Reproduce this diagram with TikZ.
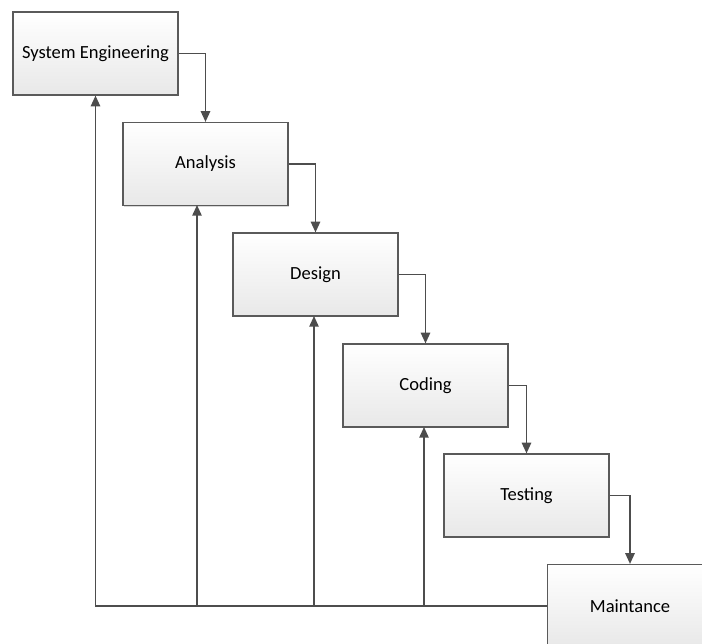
\documentclass[tikz,border=0pt]{standalone}
\usepackage{fontspec}
\setmainfont{Carlito}
\usetikzlibrary{arrows.meta,shadows}
\definecolor{WFLine}{HTML}{4D4D4D}
\definecolor{WFBorder}{HTML}{5A5A5A}
\definecolor{WFShade}{HTML}{E8E8E8}

\tikzset{
  phase/.style={rectangle,draw=WFBorder,line width=0.9pt,top color=white,bottom color=WFShade,
    minimum width=123.75pt,minimum height=62.25pt,inner sep=0pt,font=\fontsize{13.9}{16}\selectfont,
    drop shadow={shadow xshift=1pt,shadow yshift=-1pt,fill=black!30}},
  flow/.style={draw=WFLine,line width=1.2pt,-{Triangle[length=8pt,width=7pt]}}
}

\begin{document}
\begin{tikzpicture}[x=0.75pt,y=-0.75pt]
\path[use as bounding box] (0,0) rectangle (702,643);
\clip (0,0) rectangle (702,643);
\node[phase] (se) at (95.5,53.5) {System Engineering};
\node[phase] (an) at (205.5,164) {Analysis};
\node[phase] (de) at (315.5,274.5) {Design};
\node[phase] (co) at (425.5,385.5) {Coding};
\node[phase] (te) at (526.5,495.5) {Testing};
\node[phase] (ma) at (630,606) {Maintance};
% down the waterfall
\draw[flow] (se.east) -| (an.north);
\draw[flow] (an.east) -| (de.north);
\draw[flow] (de.east) -| (co.north);
\draw[flow] (co.east) -| (te.north);
\draw[flow] (te.east) -| (ma.north);
% feedback from maintance
\coordinate (anfoot) at (197,205);
\coordinate (defoot) at (314,316);
\coordinate (cofoot) at (424,427);
\draw[flow] (ma.west) -| (se.south);
\draw[flow] (ma.west -| anfoot) -- (anfoot);
\draw[flow] (ma.west -| defoot) -- (defoot);
\draw[flow] (ma.west -| cofoot) -- (cofoot);
\end{tikzpicture}
\end{document}
